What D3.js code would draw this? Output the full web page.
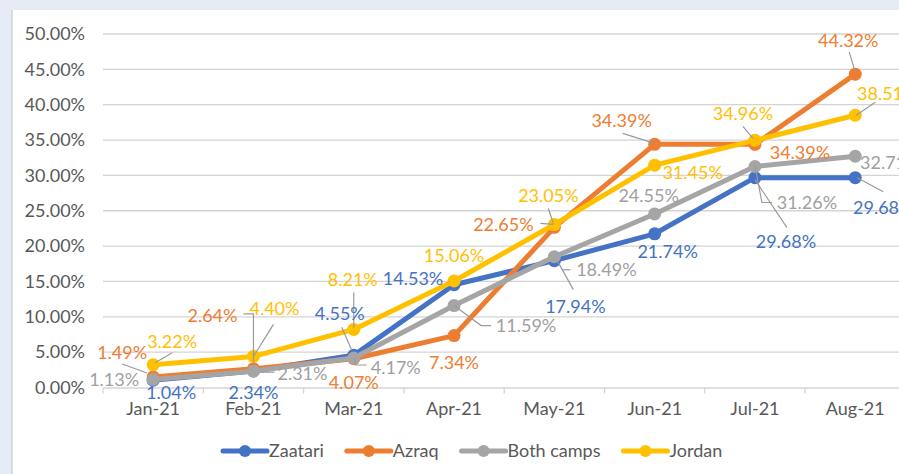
<!DOCTYPE html>
<html>
<head>
<meta charset="utf-8">
<script src="https://cdn.jsdelivr.net/npm/d3@7"></script>
<style>
  html, body { margin: 0; padding: 0; background: #e6ecf6; }
  svg { display: block; font-family: Lato, "Open Sans", sans-serif; }
</style>
</head>
<body>
<svg id="chart" width="899" height="474"></svg>
<script>
// ---- data ----
const months = ["Jan-21", "Feb-21", "Mar-21", "Apr-21", "May-21", "Jun-21", "Jul-21", "Aug-21"];
const zaatari = [1.04, 2.34, 4.55, 14.53, 17.94, 21.74, 29.68, 29.68];
const azraq = [1.49, 2.64, 4.07, 7.34, 22.65, 34.39, 34.39, 44.32];
const bothCamps = [1.13, 2.31, 4.17, 11.59, 18.49, 24.55, 31.26, 32.71];
const jordan = [3.22, 4.40, 8.21, 15.06, 23.05, 31.45, 34.96, 38.51];
const yTicks = [0, 5, 10, 15, 20, 25, 30, 35, 40, 45, 50];
const seriesNames = ["Zaatari", "Azraq", "Both camps", "Jordan"];

// label placement (offset of label centre from its point) and leader lines
const zaatariLabels = [[18,12],[0,22],[-14,-42],[-41,-6],[21,46],[13,18],[31,64],[28,30]];
const zaatariLeaders = [null,null,[[-12,-28],[-2,-5]],null,[[4,2],[19,29]],null,[[0,2],[32,50]],[[2,0],[28,14]]];
const azraqLabels = [[-31,-24],[-41,-53],[0,24],[0,27],[-51,-3],[-33,-24],[45,8],[-7,-34]];
const azraqLeaders = [[[-31,-13],[-6,-4]],[[-10,-55],[0,-55],[0,-6]],null,null,[[-14,-4],[-1,-3]],[[-32,-11],[0,-1]],null,[[-6,-22],[0,-2]]];
const bothLabels = [[-39,0],[49,2],[42,10],[72,20],[52,13],[-6,-18],[52,36],[35,6]];
const bothLeaders = [null,[[8,1],[21,1]],[[1,0],[2,7],[13,7]],[[0,0],[27,20],[37,20]],[[8,13],[16,13]],null,[[0,-1],[7,36],[17,36]],null];
const jordanLabels = [[19,-23],[21,-48],[-1,-50],[0,-26],[-6,-29],[38,7],[-12,-27],[32,-22]];
const jordanLeaders = [[[2,-2],[19,-12]],[[20,-32],[0,0]],[[0,-37],[0,-2]],null,[[-6,-16],[-1,-1]],null,[[-12,-14],[-2,-2]],[[1,0],[20,-13]]];

const colors = ["#4472C4", "#ED7D31", "#A5A5A5", "#FFC000"];
const labelColors = ["#4472C4", "#ED7D31", "#A0A0A0", "#FFC000"];
const FS = "18px";

const series = [
  {name: seriesNames[0], values: zaatari, labels: zaatariLabels, leaders: zaatariLeaders},
  {name: seriesNames[1], values: azraq, labels: azraqLabels, leaders: azraqLeaders},
  {name: seriesNames[2], values: bothCamps, labels: bothLabels, leaders: bothLeaders},
  {name: seriesNames[3], values: jordan, labels: jordanLabels, leaders: jordanLeaders}
];

const svg = d3.select("#chart");
// chart background
svg.append("rect").attr("x", 0).attr("y", 0).attr("width", 899).attr("height", 474).attr("fill", "#e6ecf6");
svg.append("rect").attr("x", 12).attr("y", 10).attr("width", 887).attr("height", 464).attr("fill", "#ffffff");
svg.append("line").attr("x1", 12).attr("x2", 12).attr("y1", 10).attr("y2", 474)
  .attr("stroke", "#cfd3d8").attr("stroke-width", 1.5);

const x = d3.scaleBand().domain(months).range([103, 905.4]);
const y = d3.scaleLinear().domain([0, 50]).range([387.5, 34]);
const cx = m => x(m) + x.bandwidth() / 2;

// gridlines
svg.append("g").selectAll("line").data(yTicks.filter(t => t > 0)).join("line")
  .attr("x1", 103).attr("x2", 905).attr("y1", d => y(d)).attr("y2", d => y(d))
  .attr("stroke", "#d4d4d4").attr("stroke-width", 1.3);

// y axis labels
const yAxis = d3.axisLeft(y).tickValues(yTicks).tickSize(0).tickPadding(18)
  .tickFormat(d => d.toFixed(2) + "%");
const yg = svg.append("g").attr("transform", "translate(103,0)").call(yAxis);
yg.select(".domain").remove();
yg.selectAll("text").attr("fill", "#595959").style("font-size", FS).style("font-family", "Lato");

// x axis
const xAxis = d3.axisBottom(x).tickSize(0).tickPadding(15);
const xg = svg.append("g").attr("transform", `translate(0,${y(0)})`).call(xAxis);
xg.select(".domain").attr("stroke", "#d4d4d4").attr("stroke-width", 1.3);
xg.selectAll("text").attr("fill", "#595959").style("font-size", FS).style("font-family", "Lato");
// category boundary ticks
svg.append("g").selectAll("line").data(months.concat(["end"])).join("line")
  .attr("x1", (d, i) => 103 + i * x.step()).attr("x2", (d, i) => 103 + i * x.step())
  .attr("y1", y(0)).attr("y2", y(0) + 6)
  .attr("stroke", "#d4d4d4").attr("stroke-width", 1.3);

const line = d3.line().x((d, i) => cx(months[i])).y(d => y(d));

// lines and markers
series.forEach((s, si) => {
  const g = svg.append("g");
  g.append("path").datum(s.values).attr("d", line)
    .attr("fill", "none").attr("stroke", colors[si]).attr("stroke-width", 5)
    .attr("stroke-linejoin", "round").attr("stroke-linecap", "round");
  g.selectAll("circle").data(s.values).join("circle")
    .attr("cx", (d, i) => cx(months[i])).attr("cy", d => y(d)).attr("r", 6.5)
    .attr("fill", colors[si]);
});

// leader lines
const leaderLine = d3.line();
series.forEach((s, si) => {
  s.values.forEach((v, i) => {
    const L = s.leaders[i];
    if (!L) return;
    const px = cx(months[i]), py = y(v);
    svg.append("path").attr("d", leaderLine(L.map(p => [px + p[0], py + p[1]])))
      .attr("fill", "none").attr("stroke", "#9a9a9a").attr("stroke-width", 1.2);
  });
});

// data labels
series.forEach((s, si) => {
  svg.append("g").selectAll("text").data(s.values).join("text")
    .attr("x", (d, i) => cx(months[i]) + s.labels[i][0])
    .attr("y", (d, i) => y(d) + s.labels[i][1])
    .attr("dy", "0.36em").attr("text-anchor", "middle")
    .attr("fill", labelColors[si]).style("font-size", FS)
    .text(d => d.toFixed(2) + "%");
});

// legend
const legend = svg.append("g");
let lx = 223;
series.forEach((s, si) => {
  const it = legend.append("g").attr("transform", `translate(${lx},451)`);
  it.append("line").attr("x1", 0).attr("x2", 44).attr("y1", 0).attr("y2", 0)
    .attr("stroke", colors[si]).attr("stroke-width", 5).attr("stroke-linecap", "round");
  it.append("circle").attr("cx", 22).attr("cy", 0).attr("r", 6).attr("fill", colors[si]);
  const t = it.append("text").attr("x", 46).attr("dy", "0.36em").attr("fill", "#595959")
    .style("font-size", FS).text(s.name);
  lx += 46 + t.node().getComputedTextLength() + 23;
});
</script>
</body>
</html>
